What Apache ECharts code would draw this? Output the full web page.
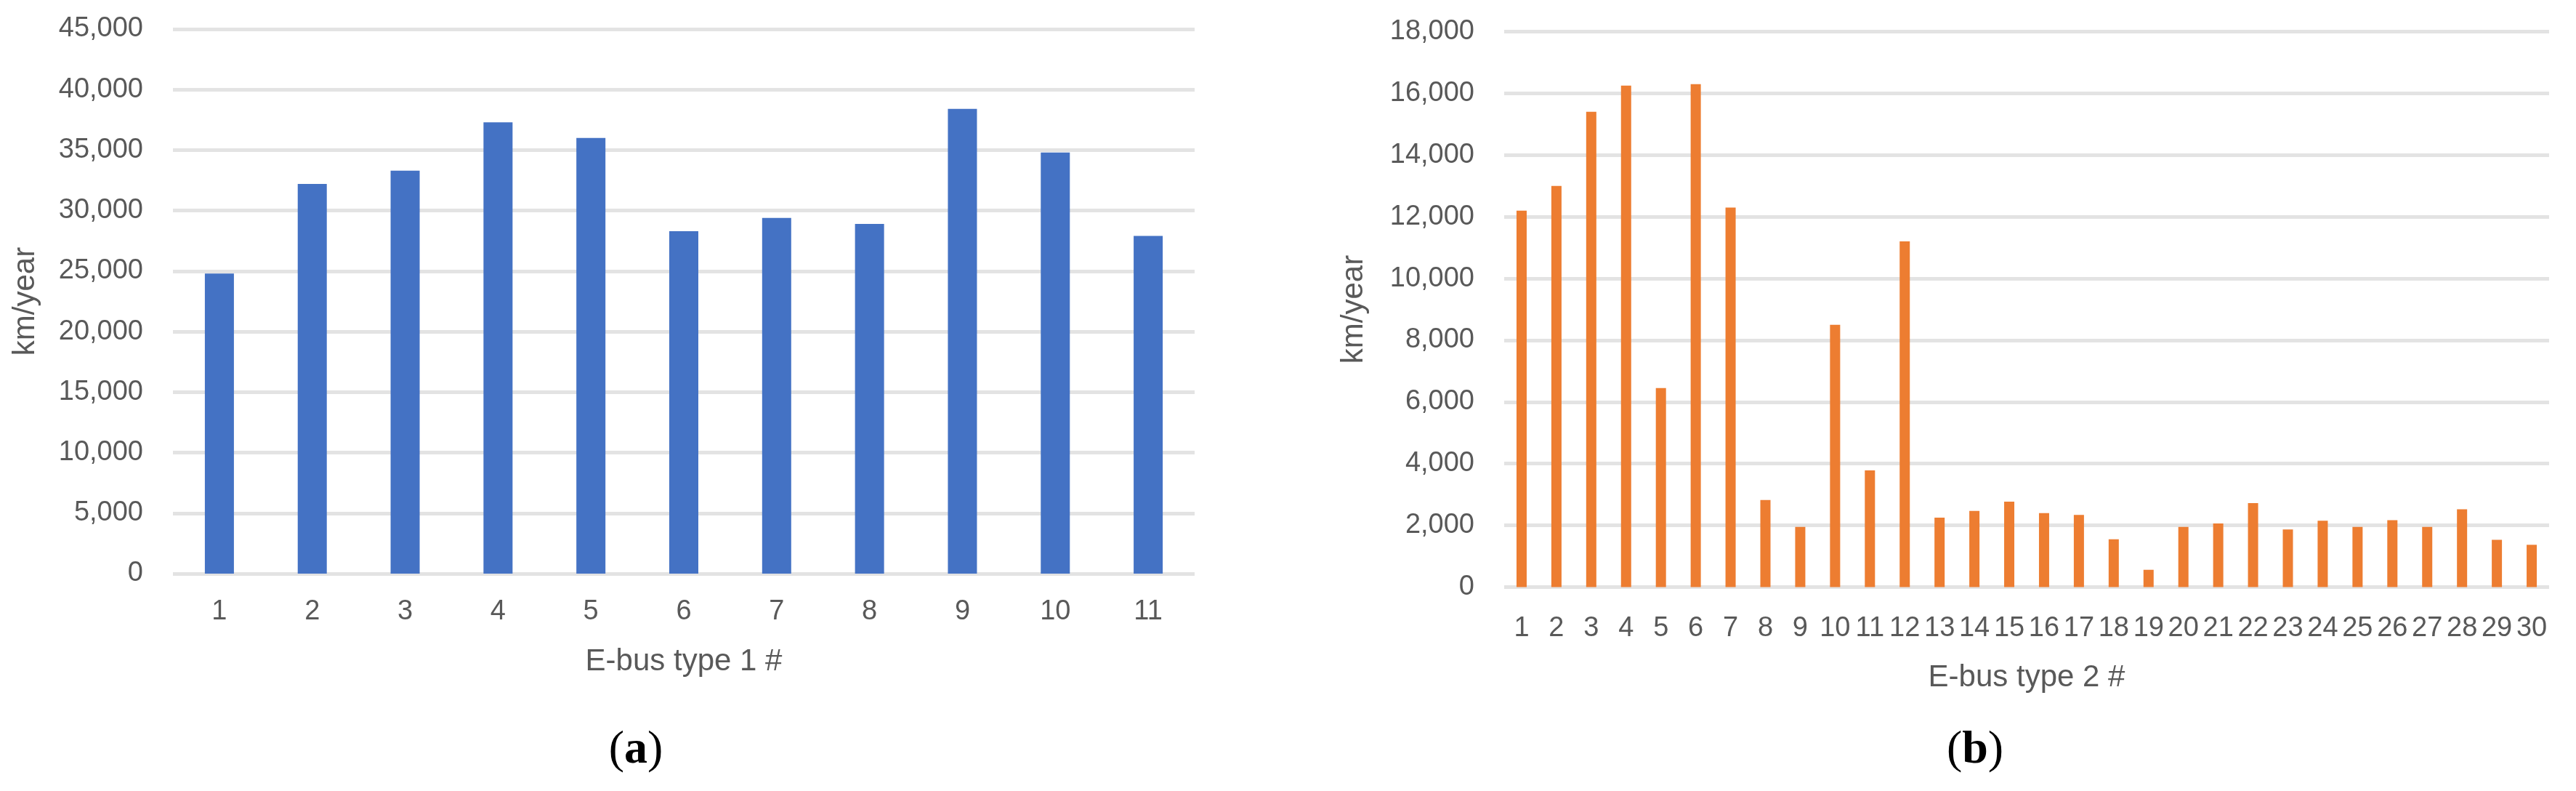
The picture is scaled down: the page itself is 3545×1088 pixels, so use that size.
<!DOCTYPE html>
<html lang="en">
<head>
    <meta charset="UTF-8">
    <title>E-bus annual mileage</title>
    <script src="https://cdn.jsdelivr.net/npm/echarts@6/dist/echarts.min.js"></script>
    <style>
        html, body { margin: 0; padding: 0; background: #fff; }
    </style>
</head>
<body>
    <div id="chart" style="width: 3545px; height: 1088px;"></div>
    <script>
        // (a) E-bus type 1
        const busType1 = ['1', '2', '3', '4', '5', '6', '7', '8', '9', '10', '11'];
        const kmType1 = [24800, 32200, 33300, 37300, 36000, 28300, 29400, 28900, 38400, 34800, 27900];
        const yTicks1 = [0, 5000, 10000, 15000, 20000, 25000, 30000, 35000, 40000, 45000];

        // (b) E-bus type 2
        const busType2 = ['1', '2', '3', '4', '5', '6', '7', '8', '9', '10',
            '11', '12', '13', '14', '15', '16', '17', '18', '19', '20',
            '21', '22', '23', '24', '25', '26', '27', '28', '29', '30'];
        const kmType2 = [12200, 13000, 15400, 16250, 6450, 16300, 12300, 2820, 1950, 8500,
            3780, 11200, 2250, 2470, 2770, 2400, 2340, 1550, 560, 1950,
            2060, 2720, 1870, 2150, 1950, 2170, 1950, 2520, 1530, 1370];
        const yTicks2 = [0, 2000, 4000, 6000, 8000, 10000, 12000, 14000, 16000, 18000];

        const font = 'Liberation Sans, Arial, sans-serif';
        const textColor = '#595959';
        const gridColor = '#e3e3e3';

        const fmt = v => v.toLocaleString('en-US');

        function valueAxis(idx, ticks, nameGap) {
            return {
                type: 'value',
                gridIndex: idx,
                min: ticks[0],
                max: ticks[ticks.length - 1],
                interval: ticks[1] - ticks[0],
                name: 'km/year',
                nameLocation: 'middle',
                nameGap: nameGap,
                nameTextStyle: { fontFamily: font, fontSize: 42, color: textColor },
                axisLine: { show: false },
                axisTick: { show: false },
                axisLabel: { fontFamily: font, fontSize: 38, color: textColor, margin: 41, formatter: fmt },
                splitLine: { lineStyle: { color: gridColor, width: 5 } }
            };
        }

        function catAxis(idx, cats, title, nameGap, margin) {
            return {
                type: 'category',
                gridIndex: idx,
                data: cats,
                name: title,
                nameLocation: 'middle',
                nameGap: nameGap,
                nameTextStyle: { fontFamily: font, fontSize: 42, color: textColor },
                axisLine: { show: false },
                axisTick: { show: false },
                axisLabel: { fontFamily: font, fontSize: 38, color: textColor, margin: margin, interval: 0 }
            };
        }

        function caption(x, letter) {
            return {
                type: 'text',
                x: x,
                y: 1032,
                style: {
                    text: '{p|(}{b|' + letter + '})' .replace('})', '}{p|)}'),
                    align: 'center',
                    verticalAlign: 'middle',
                    rich: {
                        p: { fontFamily: 'Liberation Serif, serif', fontSize: 64, fill: '#000' },
                        b: { fontFamily: 'Liberation Serif, serif', fontSize: 64, fontWeight: 'bold', fill: '#000' }
                    }
                }
            };
        }

        const myChart = echarts.init(document.getElementById('chart'));
        const option = {
            animation: false,
            backgroundColor: '#fff',
            grid: [
                { left: 238, top: 40, width: 1406, height: 749 },
                { left: 2070, top: 43.5, width: 1438, height: 764 }
            ],
            xAxis: [
                catAxis(0, busType1, 'E-bus type 1 #', 100, 34),
                catAxis(1, busType2, 'E-bus type 2 #', 104, 38)
            ],
            yAxis: [
                valueAxis(0, yTicks1, 182),
                valueAxis(1, yTicks2, 186)
            ],
            series: [
                {
                    type: 'bar',
                    xAxisIndex: 0,
                    yAxisIndex: 0,
                    data: kmType1,
                    barWidth: 40,
                    itemStyle: { color: '#4472C4' }
                },
                {
                    type: 'bar',
                    xAxisIndex: 1,
                    yAxisIndex: 1,
                    data: kmType2,
                    barWidth: 14,
                    itemStyle: { color: '#ED7D31' }
                }
            ],
            graphic: [
                caption(875, 'a'),
                caption(2718, 'b')
            ]
        };
        myChart.setOption(option);
    </script>
</body>
</html>
